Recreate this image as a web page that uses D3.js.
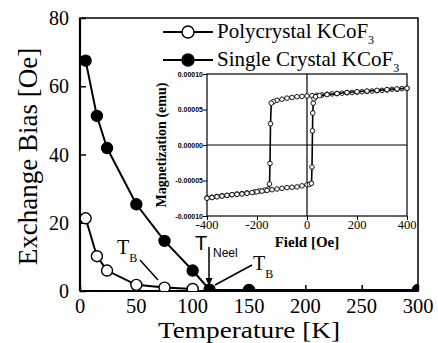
<!DOCTYPE html>
<html>
<head>
<meta charset="utf-8">
<script src="https://cdn.jsdelivr.net/npm/d3@7"></script>
<style>
  html, body { margin: 0; padding: 0; background: #fff; }
  svg { display: block; }
</style>
</head>
<body>
<div id="chart"></div>
<script>
(function() {
  'use strict';

  // main panel: exchange bias vs temperature
  var polyTemps = [5, 15, 24, 50, 75, 100];
  var polyBias = [21.3, 10.2, 6.0, 1.8, 1.0, 0.6];
  var singleTemps = [5, 15, 24, 50, 75, 100, 115, 150, 300];
  var singleBias = [67.5, 51.3, 41.9, 25.4, 14.7, 6.0, 0.4, 0.3, 0.3];

  var xTicks = [0, 50, 100, 150, 200, 250, 300];
  var yTicks = [0, 20, 40, 60, 80];
  var legendLabels = ['Polycrystal KCoF', 'Single Crystal KCoF'];

  // inset: hysteresis loop (magnetization in units of 1e-5 emu)
  var fieldDown = [400, 380, 360, 340, 320, 300, 280, 260, 240, 220, 200, 180, 160, 140, 120, 100, 80, 60, 40, 20, 0,
                   -20, -40, -60, -80, -100, -120, -135, -143, -146, -148, -150, -155, -170, -190, -210, -240, -260,
                   -280, -300, -320, -340, -360, -380, -400];
  var magDown = [8.0, 7.95, 7.85, 7.85, 7.75, 7.7, 7.65, 7.6, 7.55, 7.5, 7.45, 7.4, 7.35, 7.3, 7.25, 7.2, 7.15, 7.05, 7.0, 6.95, 6.9,
                 6.85, 6.8, 6.7, 6.6, 6.45, 6.3, 6.1, 5.9, 3.0, -2.6, -5.5, -6.2, -6.35, -6.45, -6.6, -6.75, -6.85,
                 -6.9, -7.0, -7.1, -7.15, -7.25, -7.35, -7.45];
  var fieldUp = [-400, -380, -360, -340, -320, -300, -280, -260, -240, -220, -200, -180, -160, -140, -120, -100, -80,
                 -60, -40, -20, 0, 10, 18, 20, 22, 23, 25, 28, 35, 50, 80, 120, 160, 200, 240, 280, 320, 360, 400];
  var magUp = [-7.5, -7.4, -7.3, -7.2, -7.1, -7.0, -6.95, -6.9, -6.8, -6.7, -6.6, -6.5, -6.4, -6.3, -6.2, -6.1, -6.0,
               -5.95, -5.9, -5.75, -5.6, -5.55, -5.4, -3.1, 2.0, 4.5, 5.9, 6.5, 6.8, 6.95, 7.1, 7.25, 7.4, 7.5, 7.6,
               7.7, 7.8, 7.9, 8.0];

  var insetXTicks = [-400, -200, 0, 200, 400];
  var insetYTicks = [-10, -5, 0, 5, 10];
  var insetYLabels = ['-0.00010', '-0.00005', '0.00000', '0.00005', '0.00010'];

  var
    WIDTH = 438,
    HEIGHT = 343,
    SERIF = '"Liberation Serif", "Times New Roman", serif',
    SANS = '"Liberation Sans", Arial, sans-serif',
    M = {left: 80, right: 20, top: 18, bottom: 52},
    INSET = {left: 207, right: 407, top: 74, bottom: 216};

  var svg = d3.select('#chart').append('svg')
    .attr('width', WIDTH)
    .attr('height', HEIGHT);

  var x = d3.scaleLinear().domain([0, 300]).range([M.left, WIDTH - M.right]);
  var y = d3.scaleLinear().domain([0, 80]).range([HEIGHT - M.bottom, M.top]);

  svg.append('defs').append('clipPath').attr('id', 'plot-clip')
    .append('rect')
    .attr('x', M.left).attr('y', M.top)
    .attr('width', x(300) - M.left).attr('height', y(0) - M.top);

  // ---- main axes (inward ticks) ----
  var gx = svg.append('g').attr('transform', 'translate(0,' + y(0) + ')');
  gx.call(d3.axisBottom(x).tickValues(d3.range(0, 301, 10)).tickSize(-3).tickFormat(''));
  gx.call(d3.axisBottom(x).tickValues(xTicks).tickSize(-6).tickFormat(''));
  gx.selectAll('.domain').remove();
  gx.selectAll('line').attr('stroke', '#000').attr('stroke-width', 1.5);

  var gy = svg.append('g').attr('transform', 'translate(' + M.left + ',0)');
  gy.call(d3.axisLeft(y).tickValues(d3.range(0, 81, 10)).tickSize(-3).tickFormat(''));
  gy.call(d3.axisLeft(y).tickValues(yTicks).tickSize(-6).tickFormat(''));
  gy.selectAll('.domain').remove();
  gy.selectAll('line').attr('stroke', '#000').attr('stroke-width', 1.5);

  svg.selectAll('text.xtick').data(xTicks).enter().append('text')
    .attr('class', 'xtick')
    .attr('x', function(d) { return x(d); })
    .attr('y', y(0) + 21.5)
    .attr('text-anchor', 'middle')
    .style('font-family', SERIF).style('font-size', '20.5px')
    .text(function(d) { return d; });

  svg.selectAll('text.ytick').data(yTicks).enter().append('text')
    .attr('class', 'ytick')
    .attr('x', M.left - 11)
    .attr('y', function(d) { return y(d) + 7; })
    .attr('text-anchor', 'end')
    .style('font-family', SERIF).style('font-size', '20px')
    .text(function(d) { return d; });

  // frame
  svg.append('rect')
    .attr('x', M.left).attr('y', M.top)
    .attr('width', x(300) - M.left).attr('height', y(0) - M.top)
    .attr('fill', 'none').attr('stroke', '#000').attr('stroke-width', 1.5);
  svg.append('line')
    .attr('x1', M.left).attr('x2', M.left).attr('y1', M.top).attr('y2', y(0))
    .attr('stroke', '#000').attr('stroke-width', 2.2);
  svg.append('line')
    .attr('x1', M.left).attr('x2', x(300)).attr('y1', y(0)).attr('y2', y(0))
    .attr('stroke', '#000').attr('stroke-width', 2.2);

  // axis titles
  svg.append('text')
    .attr('x', 249).attr('y', 337.5)
    .attr('text-anchor', 'middle')
    .attr('textLength', 182).attr('lengthAdjust', 'spacingAndGlyphs')
    .style('font-family', SERIF).style('font-size', '23px')
    .text('Temperature [K]');
  svg.append('text')
    .attr('transform', 'translate(37,' + ((M.top + y(0)) / 2 + 2) + ') rotate(-90)')
    .attr('text-anchor', 'middle')
    .style('font-family', SERIF).style('font-size', '27px')
    .text('Exchange Bias [Oe]');

  // ---- inset ----
  var ix = d3.scaleLinear().domain([-400, 400]).range([INSET.left, INSET.right]);
  var iy = d3.scaleLinear().domain([-10, 10]).range([INSET.bottom, INSET.top]);
  var inset = svg.append('g');

  inset.append('rect')
    .attr('x', INSET.left).attr('y', INSET.top)
    .attr('width', INSET.right - INSET.left).attr('height', INSET.bottom - INSET.top)
    .attr('fill', '#fff').attr('stroke', '#000').attr('stroke-width', 1.2);

  var igx = inset.append('g').attr('transform', 'translate(0,' + INSET.bottom + ')');
  igx.call(d3.axisBottom(ix).tickValues(d3.range(-400, 401, 50)).tickSize(2).tickFormat(''));
  igx.call(d3.axisBottom(ix).tickValues(insetXTicks).tickSize(4).tickFormat(''));
  igx.selectAll('.domain').remove();
  igx.selectAll('line').attr('stroke', '#000');

  var igy = inset.append('g').attr('transform', 'translate(' + INSET.left + ',0)');
  igy.call(d3.axisLeft(iy).tickValues(d3.range(-10, 10.1, 2.5)).tickSize(2).tickFormat(''));
  igy.call(d3.axisLeft(iy).tickValues(insetYTicks).tickSize(4).tickFormat(''));
  igy.selectAll('.domain').remove();
  igy.selectAll('line').attr('stroke', '#000');

  inset.append('line')
    .attr('x1', INSET.left).attr('x2', INSET.right).attr('y1', iy(0)).attr('y2', iy(0))
    .attr('stroke', '#000').attr('stroke-width', 1.2);
  inset.append('line')
    .attr('x1', ix(0)).attr('x2', ix(0)).attr('y1', INSET.top).attr('y2', INSET.bottom)
    .attr('stroke', '#000').attr('stroke-width', 1.2);

  inset.selectAll('text.ixtick').data(insetXTicks).enter().append('text')
    .attr('class', 'ixtick')
    .attr('x', function(d) { return ix(d); })
    .attr('y', INSET.bottom + 13)
    .attr('text-anchor', 'middle')
    .style('font-family', SERIF).style('font-size', '12.5px')
    .text(function(d) { return d; });

  inset.selectAll('text.iytick').data(insetYTicks).enter().append('text')
    .attr('class', 'iytick')
    .attr('x', INSET.left - 4)
    .attr('y', function(d) { return iy(d) + 2.5; })
    .attr('text-anchor', 'end')
    .style('font-family', SANS).style('font-size', '7px').style('font-weight', 'bold')
    .text(function(d, i) { return insetYLabels[i]; });

  inset.append('text')
    .attr('x', ix(0)).attr('y', 247)
    .attr('text-anchor', 'middle')
    .style('font-family', SERIF).style('font-size', '15px').style('font-weight', 'bold')
    .text('Field [Oe]');
  inset.append('text')
    .attr('transform', 'translate(166,' + iy(0) + ') rotate(-90)')
    .attr('text-anchor', 'middle')
    .style('font-family', SERIF).style('font-size', '14px').style('font-weight', 'bold')
    .text('Magnetization (emu)');

  var loopLine = d3.line()
    .x(function(d) { return ix(d[0]); })
    .y(function(d) { return iy(d[1]); });

  [d3.zip(fieldDown, magDown), d3.zip(fieldUp, magUp)].forEach(function(branch) {
    inset.append('path')
      .datum(branch)
      .attr('d', loopLine)
      .attr('fill', 'none').attr('stroke', '#000').attr('stroke-width', 1.6);
    inset.append('g').selectAll('circle').data(branch).enter().append('circle')
      .attr('cx', function(d) { return ix(d[0]); })
      .attr('cy', function(d) { return iy(d[1]); })
      .attr('r', 2.3)
      .attr('fill', '#fff').attr('stroke', '#000').attr('stroke-width', 0.9);
  });

  // ---- main series ----
  var plot = svg.append('g').attr('clip-path', 'url(#plot-clip)');
  var biasLine = d3.line()
    .x(function(d) { return x(d[0]); })
    .y(function(d) { return y(d[1]); });

  var series = [
    {pts: d3.zip(polyTemps, polyBias), fill: '#fff'},
    {pts: d3.zip(singleTemps, singleBias), fill: '#000'}
  ];

  series.forEach(function(s) {
    plot.append('path')
      .datum(s.pts)
      .attr('d', biasLine)
      .attr('fill', 'none').attr('stroke', '#000').attr('stroke-width', 2);
    plot.append('g').selectAll('circle').data(s.pts).enter().append('circle')
      .attr('cx', function(d) { return x(d[0]); })
      .attr('cy', function(d) { return y(d[1]); })
      .attr('r', 5.5)
      .attr('fill', s.fill).attr('stroke', '#000').attr('stroke-width', 1.4);
  });

  // ---- legend ----
  var legend = svg.append('g');
  legendLabels.forEach(function(label, i) {
    var ly = 32 + i * 28;
    legend.append('line')
      .attr('x1', 163).attr('x2', 213).attr('y1', ly).attr('y2', ly)
      .attr('stroke', '#000').attr('stroke-width', 2);
    legend.append('circle')
      .attr('cx', 188).attr('cy', ly).attr('r', 6)
      .attr('fill', series[i].fill).attr('stroke', '#000').attr('stroke-width', 1.4);
    var t = legend.append('text')
      .attr('x', 217).attr('y', ly + 6)
      .style('font-family', SERIF).style('font-size', '21px')
      .text(label);
    t.append('tspan')
      .attr('dy', 6).style('font-size', '12px')
      .text('3');
  });

  // ---- annotations ----
  var notes = svg.append('g');
  notes.append('text')
    .attr('x', 117).attr('y', 254)
    .style('font-family', SERIF).style('font-size', '20px')
    .text('T')
    .append('tspan').attr('dy', 8).style('font-size', '12px').text('B');
  notes.append('line')
    .attr('x1', 140).attr('y1', 260).attr('x2', 158).attr('y2', 280)
    .attr('stroke', '#000').attr('stroke-width', 1.5);

  notes.append('text')
    .attr('x', 253).attr('y', 270)
    .style('font-family', SERIF).style('font-size', '20px')
    .text('T')
    .append('tspan').attr('dy', 8).style('font-size', '12px').text('B');
  notes.append('line')
    .attr('x1', 252).attr('y1', 265).attr('x2', 215).attr('y2', 285)
    .attr('stroke', '#000').attr('stroke-width', 1.5);

  notes.append('text')
    .attr('x', 195).attr('y', 250)
    .style('font-family', SANS).style('font-size', '20px')
    .text('T');
  notes.append('text')
    .attr('x', 213).attr('y', 257)
    .style('font-family', SANS).style('font-size', '12px')
    .text('Neel');
  notes.append('line')
    .attr('x1', 209).attr('y1', 247).attr('x2', 209).attr('y2', 279)
    .attr('stroke', '#000').attr('stroke-width', 1.5);
  notes.append('path')
    .attr('d', 'M205.5,278 L212.5,278 L209,286 Z')
    .attr('fill', '#000');
})();
</script>
</body>
</html>
